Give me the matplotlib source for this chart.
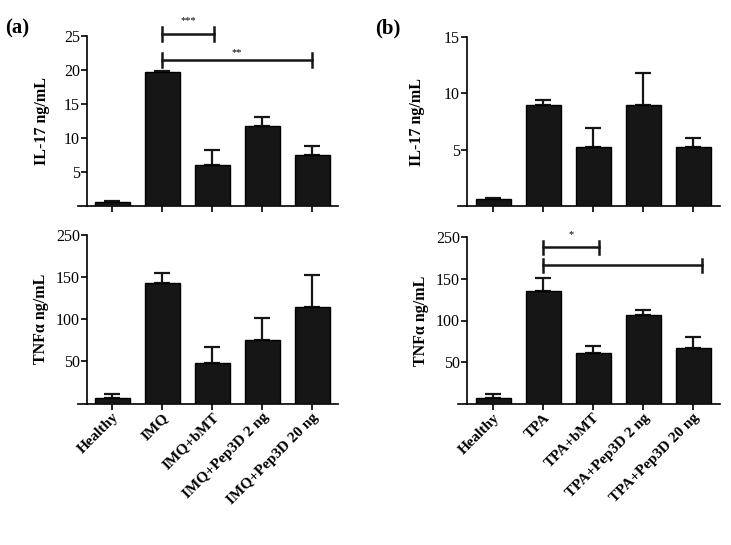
import numpy as np
import matplotlib
matplotlib.use("Agg")
import matplotlib.pyplot as plt

plt.rcParams['font.family'] = ['Liberation Serif', 'DejaVu Serif']

groups_a = ["Healthy", "IMQ", "IMQ+bMT", "IMQ+Pep3D 2 ng", "IMQ+Pep3D 20 ng"]
groups_b = ["Healthy", "TPA", "TPA+bMT", "TPA+Pep3D 2 ng", "TPA+Pep3D 20 ng"]

# means and upper error (SEM)
il17_a = [0.6, 19.7, 6.0, 11.7, 7.5]
il17_a_err = [0.2, 0.2, 2.2, 1.4, 1.3]
tnf_a = [6.5, 143, 48.5, 75, 114]
tnf_a_err = [5, 12, 19, 26.5, 39]

il17_b = [0.6, 9.0, 5.2, 9.0, 5.25]
il17_b_err = [0.12, 0.45, 1.7, 2.8, 0.75]
tnf_b = [7, 135, 61, 107, 66.5]
tnf_b_err = [5.5, 15.5, 9, 5, 14]

W, H = 731, 545
fig = plt.figure(figsize=(W / 100, H / 100), dpi=100)


def make_ax(x0, x1, y0, y1):
    return fig.add_axes([x0 / W, 1 - y1 / H, (x1 - x0) / W, (y1 - y0) / H])


def draw(ax, vals, errs, ylim, yticks, ylabels, ylab, xlabels=None, spine_x=-0.5,
         xlim=(-0.68, 4.52), lpad=6):
    x = np.arange(len(vals))
    ax.bar(x, vals, width=0.7, color='#161616', edgecolor='black', linewidth=1.0, zorder=3)
    ax.errorbar(x, vals, yerr=[np.zeros(len(vals)), errs], fmt='none', ecolor='#161616',
                elinewidth=1.6, capsize=6, capthick=1.6, zorder=2)
    ax.set_xlim(*xlim)
    ax.set_ylim(*ylim)
    for s in ['top', 'right']:
        ax.spines[s].set_visible(False)
    ax.spines['left'].set_position(('data', spine_x))
    ax.spines['left'].set_linewidth(1.2)
    ax.spines['bottom'].set_linewidth(1.2)
    ax.set_yticks(yticks)
    ax.set_yticklabels(ylabels, fontsize=11.5)
    ax.set_xticks(x)
    ax.tick_params(direction='out', length=4, width=1.2, pad=1)
    if xlabels is None:
        ax.set_xticklabels([])
    else:
        ax.set_xticklabels(xlabels, rotation=45, ha='right', rotation_mode='anchor',
                           fontsize=11, fontweight='bold')
    ax.set_ylabel(ylab, fontsize=11.5, fontweight='bold', labelpad=lpad)


def bracket(ax, x0, x1, y, h, label=None, ly=None):
    ax.plot([x0, x1], [y, y], color='#161616', lw=1.8, clip_on=False)
    for xx in (x0, x1):
        ax.plot([xx, xx], [y - h, y + h], color='#161616', lw=1.8, clip_on=False)
    if label:
        ax.text((x0 + x1) / 2, ly, label, ha='center', va='center', fontsize=7.5, clip_on=False)


ax1 = make_ax(78, 338, 36, 206)
draw(ax1, il17_a, il17_a_err, (0, 25), [5, 10, 15, 20, 25], ['5', '10', '15', '20', '25'],
     'IL-17 ng/mL', lpad=10)
bracket(ax1, 1, 2.04, 25.3, 1.0, '***', 27.2)
bracket(ax1, 1, 4.0, 21.5, 1.0, '**', 22.6)

ax2 = make_ax(78, 338, 235, 403.5)
draw(ax2, tnf_a, tnf_a_err, (0, 200), [50, 100, 150, 200], ['50', '100', '150', '250'],
     'TNF\u03b1 ng/mL', xlabels=groups_a, lpad=5)

ax3 = make_ax(458, 720, 37, 206)
draw(ax3, il17_b, il17_b_err, (0, 15), [5, 10, 15], ['5', '10', '15'], 'IL-17 ng/mL',
     spine_x=-0.52, xlim=(-0.7, 4.54), lpad=14)

ax4 = make_ax(458, 720, 237, 404)
draw(ax4, tnf_b, tnf_b_err, (0, 200), [50, 100, 150, 200], ['50', '100', '150', '250'],
     'TNF\u03b1 ng/mL', xlabels=groups_b, spine_x=-0.52, xlim=(-0.7, 4.54), lpad=5)
bracket(ax4, 1, 2.12, 187.6, 8, '*', 203)
bracket(ax4, 1, 4.17, 166, 8)

fig.text(5 / W, 1 - 28 / H, '(a)', fontsize=15, fontweight='bold', va='center')
fig.text(375 / W, 1 - 28 / H, '(b)', fontsize=15, fontweight='bold', va='center')

fig.savefig('out.png', dpi=100)
